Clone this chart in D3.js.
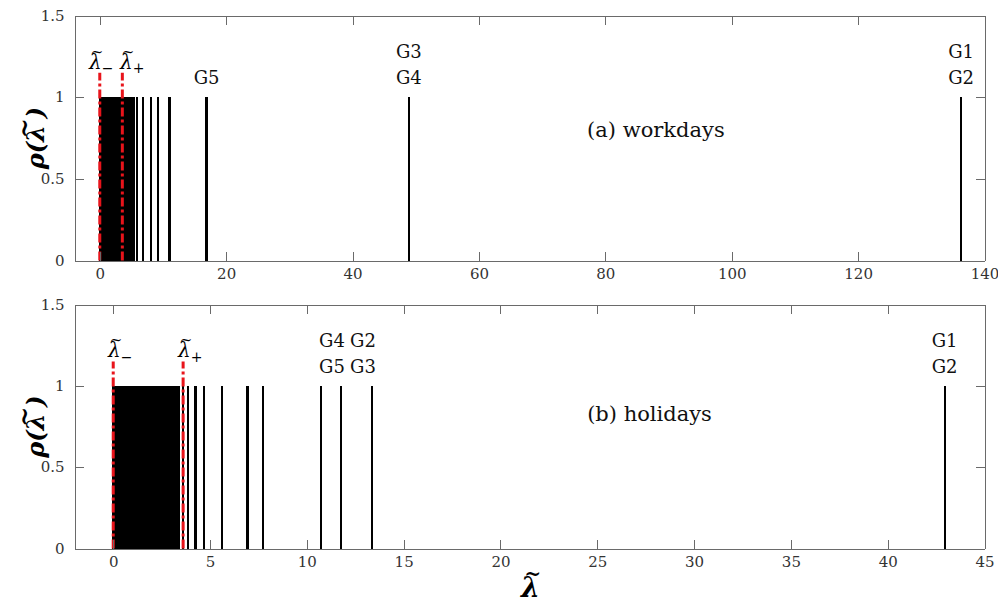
<!DOCTYPE html>
<html>
<head>
<meta charset="utf-8">
<script src="https://cdn.jsdelivr.net/npm/d3@7"></script>
<style>
  body { margin: 0; background: #fff; }
  svg { display: block; }
  svg text { font-family: 'DejaVu Serif', serif; }
</style>
</head>
<body>
<svg id="chart"></svg>
<script>
const width = 998, height = 606;
const serif = "'DejaVu Serif', serif";

// eigenvalue spectra (lambda tilde), each drawn as a unit-height stem
const workdaysEig = [0, 0.14, 0.31, 0.45, 0.62, 0.77, 0.93, 1.08, 1.24, 1.39, 1.55, 1.71, 1.86,
	2.02, 2.17, 2.33, 2.48, 2.64, 2.79, 2.95, 3.1, 3.26, 3.41, 3.57, 3.72, 3.88, 4.06,
	4.33, 4.52, 4.71, 4.9, 5.1, 5.25, 5.38, 5.86, 6.81, 8.13, 9.24, 11.04, 16.9, 48.9, 48.9, 136.3, 136.3];
const holidaysEig = [0, 0.09, 0.18, 0.28, 0.37, 0.46, 0.55, 0.65, 0.74, 0.83, 0.93, 1.02, 1.11,
	1.2, 1.3, 1.39, 1.48, 1.58, 1.67, 1.76, 1.86, 1.95, 2.04, 2.13, 2.23, 2.32, 2.41, 2.51,
	2.6, 2.69, 2.79, 2.88, 2.97, 3.06, 3.1, 3.18, 3.3, 3.41, 3.61, 3.87, 4.25, 4.7, 5.6,
	6.94, 7.73, 10.75, 11.78, 13.38, 42.94];

// bounds lambda- / lambda+ and where their labels start
const workdaysBounds = [0, 3.57];
const holidaysBounds = [0, 3.61];
const workdaysBoundLabelX = [-1.7, 3.2];
const holidaysBoundLabelX = [-0.27, 3.35];

// group labels [x, y, text]
const workdaysLabels = [[16.9, 1.12, 'G5'], [48.9, 1.28, 'G3'], [48.9, 1.12, 'G4'],
	[136.3, 1.28, 'G1'], [136.3, 1.12, 'G2']];
const holidaysLabels = [[11.3, 1.28, 'G4'], [11.3, 1.12, 'G5'], [12.9, 1.28, 'G2'],
	[12.9, 1.12, 'G3'], [42.94, 1.28, 'G1'], [42.94, 1.12, 'G2']];

const workdaysTicks = [0, 20, 40, 60, 80, 100, 120, 140];
const holidaysTicks = [0, 5, 10, 15, 20, 25, 30, 35, 40, 45];
const yTicks = [0, 0.5, 1, 1.5];

const svg = d3.select('#chart').attr('width', width).attr('height', height);

const left = 74.5, right = 984.5;

const panels = [
	{ eig: workdaysEig, bounds: workdaysBounds, boundLabelX: workdaysBoundLabelX, labels: workdaysLabels,
	  ticks: workdaysTicks, domain: [-4, 140], top: 15.5, bottom: 260.5,
	  title: '(a) workdays', titleX: 88, titleY: 0.8 },
	{ eig: holidaysEig, bounds: holidaysBounds, boundLabelX: holidaysBoundLabelX, labels: holidaysLabels,
	  ticks: holidaysTicks, domain: [-2, 45], top: 304.5, bottom: 548.5,
	  title: '(b) holidays', titleX: 27.7, titleY: 0.83 }
];

const axisColor = '#6a6a6a';

// lambda with a tilde over it, kept in one text element
const tildeLambda = (g, x0, baseline, size, bold, sub) => {
	const t = g.append('text')
		.attr('x', x0)
		.attr('y', baseline)
		.style('font-size', size + 'px')
		.style('font-style', 'italic')
		.style('font-weight', bold ? 'bold' : 'normal');
	const lam = t.append('tspan').text('λ');
	const w = lam.node().getComputedTextLength();
	const tilde = t.append('tspan')
		.style('font-size', (size * 0.75) + 'px')
		.style('font-style', 'normal')
		.text('~');
	const tw = tilde.node().getComputedTextLength();
	const slant = size * 0.08, lift = size * 0.6;
	tilde.attr('dx', -(w + tw) / 2 + slant).attr('dy', -lift);
	const back = (w - tw) / 2 - slant;
	if (sub) {
		t.append('tspan')
			.attr('dx', back)
			.attr('dy', lift + size * 0.22)
			.style('font-size', (size * 0.7) + 'px')
			.style('font-style', 'normal')
			.text(sub);
	}
};

const drawPanel = (p) => {
	const x = d3.scaleLinear().domain(p.domain).range([left, right]);
	const y = d3.scaleLinear().domain([0, 1.5]).range([p.bottom, p.top]);
	const g = svg.append('g');

	// stems
	g.selectAll('.stem')
		.data(p.eig)
		.enter()
		.append('line')
		.attr('x1', d => x(d))
		.attr('x2', d => x(d))
		.attr('y1', y(0))
		.attr('y2', y(1))
		.attr('shape-rendering', 'crispEdges')
		.style('stroke', '#000')
		.style('stroke-width', 2.2);

	// bounds (red dash-dot)
	g.selectAll('.bound')
		.data(p.bounds)
		.enter()
		.append('line')
		.attr('x1', d => x(d))
		.attr('x2', d => x(d))
		.attr('y1', y(0))
		.attr('y2', y(1.15))
		.style('stroke', '#e8141b')
		.style('stroke-width', 3)
		.style('stroke-dasharray', '9,3,3,3');

	// lambda labels
	p.boundLabelX.forEach((b, i) => {
		tildeLambda(g, x(b), y(1.2) + 4, 20, false, i === 0 ? '−' : '+');
	});

	// group labels
	g.selectAll('.glabel')
		.data(p.labels)
		.enter()
		.append('text')
		.attr('x', d => x(d[0]))
		.attr('y', d => y(d[1]))
		.attr('dy', '0.35em')
		.attr('text-anchor', 'middle')
		.style('font-size', '18px')
		.style('fill', '#111')
		.text(d => d[2]);

	g.append('text')
		.attr('x', x(p.titleX))
		.attr('y', y(p.titleY))
		.attr('dy', '0.35em')
		.attr('text-anchor', 'middle')
		.style('font-size', '21px')
		.style('fill', '#111')
		.text(p.title);

	// axes, ticks pointing inward on all sides
	g.append('g')
		.attr('transform', `translate(0,${p.bottom})`)
		.call(d3.axisBottom(x).tickValues(p.ticks).tickSizeInner(-9).tickSizeOuter(0).tickPadding(8));
	g.append('g')
		.attr('transform', `translate(0,${p.top})`)
		.call(d3.axisTop(x).tickValues(p.ticks).tickSizeInner(-9).tickSizeOuter(0).tickFormat(''));
	g.append('g')
		.attr('transform', `translate(${left},0)`)
		.call(d3.axisLeft(y).tickValues(yTicks).tickSizeInner(-9).tickSizeOuter(0).tickPadding(10)
			.tickFormat(d => String(d)));
	g.append('g')
		.attr('transform', `translate(${right},0)`)
		.call(d3.axisRight(y).tickValues(yTicks).tickSizeInner(-9).tickSizeOuter(0).tickFormat(''));

	g.selectAll('g[font-family]').attr('font-family', serif);
	g.selectAll('.domain').style('stroke', axisColor).attr('shape-rendering', 'crispEdges');
	g.selectAll('.tick line').style('stroke', axisColor).attr('shape-rendering', 'crispEdges');
	g.selectAll('.tick text')
		.style('font-family', serif)
		.style('font-size', '15px')
		.style('fill', '#333');

	// y label rho(lambda~)
	const cy = (p.top + p.bottom) / 2;
	const yLab = g.append('text')
		.attr('transform', `translate(44,${cy}) rotate(-90)`)
		.attr('text-anchor', 'middle')
		.style('font-size', '24px')
		.style('font-weight', 'bold')
		.style('font-style', 'italic');
	yLab.append('tspan').text('ρ(λ');
	yLab.append('tspan').attr('dx', '-0.55em').attr('dy', '-0.5em').style('font-style', 'normal').text('~');
	yLab.append('tspan').attr('dx', '0.0em').attr('dy', '0.5em').text(')');
};

panels.forEach(drawPanel);

// x label
tildeLambda(svg, 521, 597, 27, true, null);
</script>
</body>
</html>
